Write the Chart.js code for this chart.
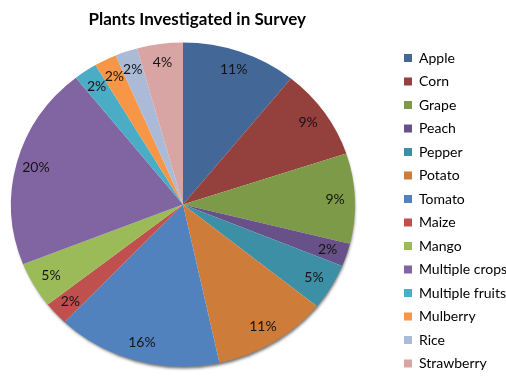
<!DOCTYPE html>
<html>
<head>
<meta charset="utf-8">
<script src="https://cdn.jsdelivr.net/npm/chart.js@4.4.0/dist/chart.umd.min.js"></script>
<style>
  html, body { margin: 0; padding: 0; background: #ffffff; overflow: hidden; }
  #wrap { width: 506px; height: 376px; overflow: hidden; }
  #c { display: block; }
</style>
</head>
<body>
<div id="wrap"><canvas id="c" width="506" height="392"></canvas></div>
<script>
// ---- data ----
const chartTitle = 'Plants Investigated in Survey';
const categories = ['Apple', 'Corn', 'Grape', 'Peach', 'Pepper', 'Potato', 'Tomato',
  'Maize', 'Mango', 'Multiple crops', 'Multiple fruits', 'Mulberry', 'Rice', 'Strawberry'];
const shares = [10.8, 9.1, 9.0, 2.3, 4.6, 10.8, 15.5, 2.3, 4.6, 20.3, 2.2, 2.1, 2.1, 4.3];
const sliceColors = ['#436898', '#94403D', '#7C9A48', '#685088', '#3C8FA4', '#CE7C39', '#5282BE',
  '#C0504D', '#9BBB59', '#8065A2', '#4BACC6', '#F79646', '#AABAD7', '#D9A5A4'];

// ---- layout ----
const FONT = 'Lato';
const legendFontSize = 14;
const legendPad = 9.5;
const legendBox = 8;
const legendLeft = 394.5;
const pieFrame = { cx: 183, cy: 204.5, rx: 172, ry: 162 };
const labelRadius = 0.885;

const mctx = document.createElement('canvas').getContext('2d');
mctx.font = legendFontSize + 'px ' + FONT;
const maxText = Math.max(...categories.map(c => mctx.measureText(c).width));
const legendWidth = legendPad + legendBox + legendFontSize / 2 + maxText + 10;
const padRight = 506 - legendLeft - legendWidth;

const piePlugin = {
  id: 'pieFrame',
  beforeDatasetsDraw(chart) {
    const ctx = chart.ctx;
    // soft drop shadow under the pie
    ctx.save();
    ctx.shadowColor = 'rgba(0,0,0,0.55)';
    ctx.shadowBlur = 3;
    ctx.shadowOffsetX = 1;
    ctx.shadowOffsetY = 3;
    ctx.fillStyle = '#ffffff';
    ctx.beginPath();
    ctx.ellipse(pieFrame.cx, pieFrame.cy, pieFrame.rx - 1, pieFrame.ry - 1, 0, 0, Math.PI * 2);
    ctx.fill();
    ctx.restore();

    const a0 = chart.getDatasetMeta(0).data[0];
    ctx.save();
    ctx.translate(pieFrame.cx, pieFrame.cy);
    ctx.scale(pieFrame.rx / a0.outerRadius, pieFrame.ry / a0.outerRadius);
    ctx.translate(-a0.x, -a0.y);
  },
  afterDatasetsDraw(chart) {
    const ctx = chart.ctx;
    ctx.restore();
    const meta = chart.getDatasetMeta(0);
    const total = shares.reduce((a, b) => a + b, 0);
    ctx.save();
    ctx.font = '14px ' + FONT;
    ctx.fillStyle = '#141414';
    ctx.textAlign = 'center';
    ctx.textBaseline = 'middle';
    meta.data.forEach((arc, i) => {
      const mid = (arc.startAngle + arc.endAngle) / 2;
      const px = pieFrame.cx + Math.cos(mid) * labelRadius * pieFrame.rx;
      const py = pieFrame.cy + Math.sin(mid) * labelRadius * pieFrame.ry;
      ctx.fillText(Math.round(shares[i] / total * 100) + '%', px, py);
    });
    ctx.restore();
  }
};

new Chart(document.getElementById('c'), {
  type: 'pie',
  data: {
    labels: categories,
    datasets: [{
      data: shares,
      backgroundColor: sliceColors,
      borderWidth: 0,
      clip: false
    }]
  },
  options: {
    responsive: false,
    animation: false,
    devicePixelRatio: 1,
    layout: { padding: { left: 0, right: padRight, top: 0, bottom: 0 } },
    plugins: {
      title: {
        display: true,
        text: chartTitle,
        fullSize: false,
        color: '#000000',
        font: { family: FONT, size: 17, weight: 'bold' },
        padding: { top: 9.5, bottom: 11.6 }
      },
      legend: {
        position: 'right',
        align: 'start',
        fullSize: false,
        labels: {
          boxWidth: legendBox,
          boxHeight: legendBox,
          padding: legendPad,
          color: '#000000',
          font: { family: FONT, size: legendFontSize }
        }
      },
      tooltip: { enabled: false }
    }
  },
  plugins: [piePlugin]
});
</script>
</body>
</html>
